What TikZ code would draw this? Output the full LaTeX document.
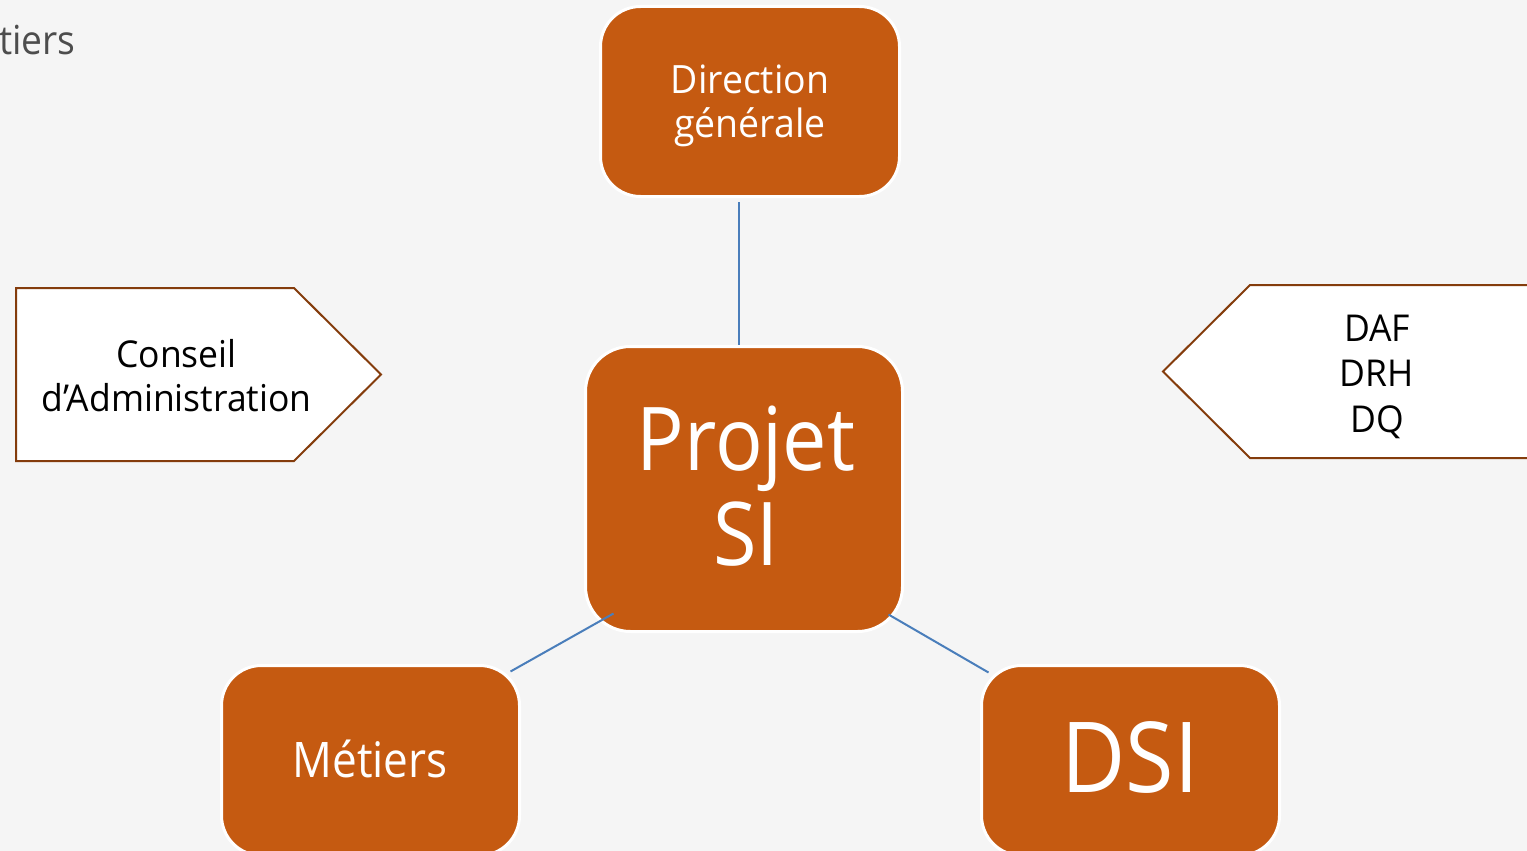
\documentclass[tikz,border=0pt]{standalone}
\usepackage{fontspec}
\setmainfont{Open Sans}
\newfontfamily\osA[FakeStretch=0.96]{Open Sans}
\newfontfamily\osB[FakeStretch=0.90]{Open Sans}
\newfontfamily\osC[FakeStretch=0.93]{Open Sans}
\usetikzlibrary{calc}
\definecolor{bgc}{HTML}{F5F5F5}
\definecolor{orgc}{HTML}{C55A11}
\definecolor{brnc}{HTML}{843C0C}
\definecolor{lnc}{HTML}{4A7EBB}
\definecolor{grayt}{HTML}{4D4D4D}
\tikzset{
  obox/.style={rectangle, rounded corners=40pt, fill=orgc, draw=white, line width=3pt, inner sep=0pt},
  wtext/.style={text=white, align=center, inner sep=0pt},
  btext/.style={text=black, align=center, inner sep=0pt},
  penta/.style={fill=white, draw=brnc, line width=2pt},
  conn/.style={draw=lnc, line width=2pt},
}
\begin{document}
\begin{tikzpicture}[x=1pt,y=-1pt]
\fill[bgc] (0,0) rectangle (1527,851);
\useasboundingbox (0,0) rectangle (1527,851);
\clip (0,0) rectangle (1527,851);

% top-left partial title
\node[text=grayt, anchor=base west, inner sep=0pt, font=\osC\fontsize{40}{48}\selectfont] (title) at (-1,55) {tiers};

% rounded orange boxes
\node[obox, minimum width=299pt, minimum height=190pt] (dg) at (750,101.5) {};
\node[obox, minimum width=317pt, minimum height=285pt, rounded corners=45pt] (proj) at (744,489) {};
\node[obox, minimum width=298pt, minimum height=190pt] (met) at (370.5,760.5) {};
\node[obox, minimum width=298pt, minimum height=190pt] (dsi) at (1130.5,760.5) {};

% texts in boxes (base anchor = baseline of the last line)
\node[wtext, anchor=base, font=\osA\fontsize{39}{44}\selectfont] (dgt) at (750,137) {Direction\\générale};
\node[wtext, anchor=base, font=\osB\fontsize{88}{95}\selectfont] (projt) at (746,565) {Projet\\SI};
\node[wtext, anchor=base, font=\osB\fontsize{49}{55}\selectfont] (mett) at (370,777) {Métiers};
\node[wtext, anchor=base, font=\osB\fontsize{98}{110}\selectfont] (dsit) at (1130,792) {DSI};

% pentagons
\draw[penta] (16,288) -- (294,288) -- (381,374.5) -- (294,461) -- (16,461) -- cycle;
\node[btext, anchor=base, font=\osA\fontsize{37}{44}\selectfont] (ca) at (176.5,411) {Conseil\\d’Administration};
\draw[penta] (1163,371.5) -- (1250,285) -- (1600,285) -- (1600,458) -- (1250,458) -- cycle;
\node[btext, anchor=base, font=\osA\fontsize{37}{45.5}\selectfont] (daf) at (1377,432) {DAF\\DRH\\DQ};

% connectors
\coordinate (c1) at ($(dg.south)+(-11,4)$);
\coordinate (c2) at ($(proj.north)+(-5,0)$);
\coordinate (c3) at ($(proj.south west)+(29.5,-19.5)$);
\coordinate (c4) at ($(met.north east)+(-10.5,7.5)$);
\coordinate (c5) at ($(proj.south east)+(-15.5,-18.5)$);
\coordinate (c6) at ($(dsi.north west)+(8.5,8.5)$);
\draw[conn] (c1) -- (c2);
\draw[conn] (c3) -- (c4);
\draw[conn] (c5) -- (c6);
\end{tikzpicture}
\end{document}
